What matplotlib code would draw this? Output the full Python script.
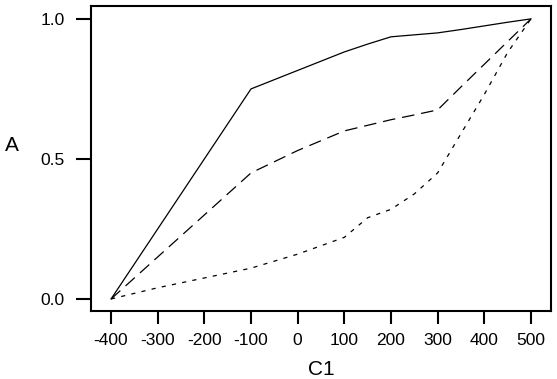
import matplotlib
matplotlib.use("Agg")
import matplotlib.pyplot as plt

plt.rcParams["font.family"] = ["Liberation Sans", "DejaVu Sans"]
plt.rcParams["lines.scale_dashes"] = False

# values
C1 = [-400, -300, -200, -100, 0, 100, 150, 200, 250, 300, 350, 400, 450, 500]
A_SOLID = [0.0, 0.25, 0.50, 0.75, 0.816, 0.882, 0.91, 0.936, 0.943, 0.95,
           0.962, 0.975, 0.988, 1.0]
A_DASHED = [0.0, 0.15, 0.30, 0.45, 0.53, 0.60, 0.62, 0.64, 0.657, 0.675,
            0.757, 0.838, 0.919, 1.0]
A_DOTTED = [0.0, 0.04, 0.075, 0.11, 0.16, 0.22, 0.29, 0.32, 0.375, 0.45,
            0.59, 0.73, 0.88, 1.0]

XTICKS = [-400, -300, -200, -100, 0, 100, 200, 300, 400, 500]
YTICKS = [0.0, 0.5, 1.0]

fig = plt.figure(figsize=(5.57, 3.79), dpi=100)
ax = fig.add_axes([91 / 557, 1 - 311 / 379, 460 / 557, 305 / 379])

ax.plot(C1, A_SOLID, color="black", lw=0.9, ls="-")
ax.plot(C1, A_DASHED, color="black", lw=0.9, dashes=(9, 5))
ax.plot(C1, A_DOTTED, color="black", lw=0.9, dashes=(3, 4.5))

ax.set_xlim(-443, 543)
ax.set_ylim(-0.043, 1.046)
ax.set_xticks(XTICKS)
ax.set_xticklabels([str(v) for v in XTICKS])
ax.set_yticks(YTICKS)
ax.set_yticklabels([f"{v:.1f}" for v in YTICKS])

for s in ax.spines.values():
    s.set_linewidth(1.5)
ax.tick_params(axis="x", direction="out", length=9, width=1.5, pad=7,
               labelsize=12.5)
ax.tick_params(axis="y", direction="out", length=11, width=1.5, pad=8,
               labelsize=12.5)

ax.set_xlabel("C1", fontsize=15)
ax.xaxis.set_label_coords(0.5, -0.193)
ax.xaxis.label.set_va("center")
ax.set_ylabel("A", fontsize=15, rotation=0, ha="center", va="center")
ax.yaxis.set_label_coords(-0.172, 0.541)

fig.savefig("out.png", dpi=100)
